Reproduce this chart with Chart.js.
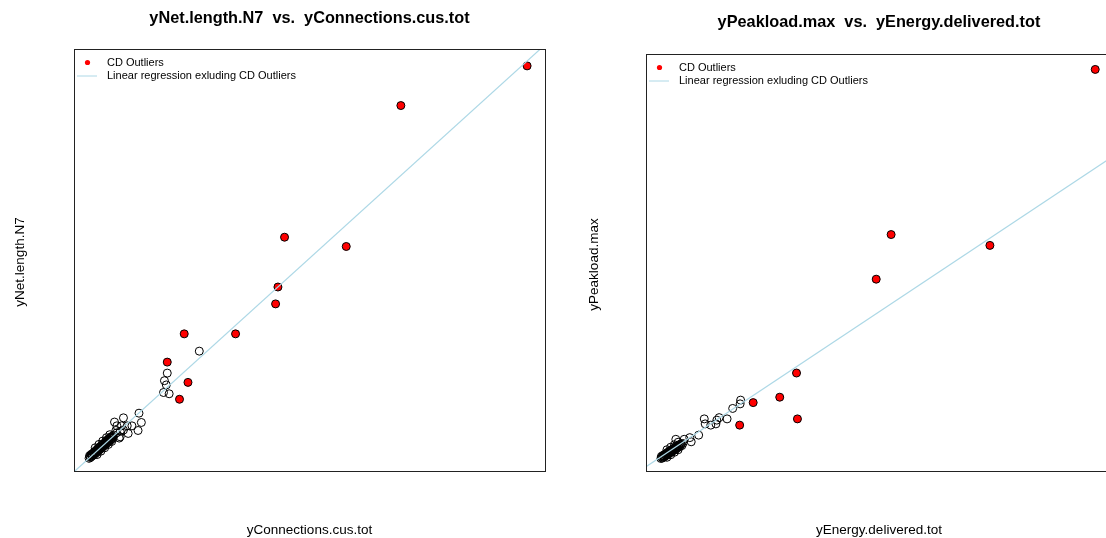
<!DOCTYPE html>
<html>
<head>
<meta charset="utf-8">
<script src="https://cdn.jsdelivr.net/npm/chart.js@4.4.1/dist/chart.umd.min.js"></script>
<style>
  html, body { margin: 0; padding: 0; background: #fff; overflow: hidden; }
  body { width: 1106px; height: 538px; position: relative; }
  canvas { position: absolute; top: 0; }
  #left { left: 0; }
  #right { left: 553px; }
</style>
</head>
<body>
<canvas id="left" width="553" height="538"></canvas>
<canvas id="right" width="565" height="538"></canvas>
<script>
// values are in scaled units (0-100 of each axis range), no tick labels in the source
const connPoints = [
  [26.6, 28.4], [19.8, 23.2], [19.2, 21.4], [19.6, 20.4], [19.0, 18.6], [20.2, 18.3],
  [13.8, 13.7], [14.3, 11.5], [13.6, 9.6], [10.5, 12.6], [8.6, 11.6], [9.1, 10.7],
  [10.1, 10.7], [11.3, 10.7], [12.3, 10.7], [11.5, 8.9], [9.8, 8.1], [10.5, 9.7],
  [9.6, 7.8], [9.0, 9.0], [9.8, 9.4], [8.9, 9.6],
  [3.2, 3.0], [3.3, 3.6], [3.5, 3.2], [3.6, 3.9], [3.8, 3.5], [3.9, 4.1], [4.0, 3.7],
  [4.2, 4.4], [4.3, 3.9], [4.4, 4.6], [4.6, 4.2], [4.7, 4.9], [4.8, 4.4], [5.0, 5.2],
  [5.1, 4.7], [5.2, 5.5], [5.4, 5.0], [5.5, 5.7], [5.6, 5.2], [5.8, 6.0], [5.9, 5.5],
  [6.0, 6.3], [6.2, 5.8], [6.3, 6.5], [6.4, 6.0], [6.6, 6.8], [6.7, 6.3], [6.8, 7.1],
  [7.0, 6.6], [7.1, 7.4], [7.2, 6.8], [7.4, 7.6], [7.5, 7.1], [7.6, 7.9], [7.8, 7.3],
  [7.9, 8.1], [8.0, 7.6], [8.2, 8.3], [8.3, 7.8], [8.5, 8.5],
  [3.4, 3.4], [3.8, 3.8], [4.2, 4.1], [4.6, 4.6], [5.0, 4.9], [5.4, 5.4], [5.8, 5.7],
  [6.2, 6.2], [6.6, 6.5], [7.0, 7.0], [7.4, 7.3], [7.8, 7.8], [8.1, 8.0],
  [4.5, 5.5], [5.3, 6.3], [6.1, 7.1], [6.9, 7.9], [7.6, 8.6],
  [4.9, 3.9], [5.7, 4.7], [6.5, 5.5], [7.3, 6.3], [8.0, 7.0]
];
const connOutliers = [
  [96.2, 96.0], [69.4, 86.6], [44.7, 55.4], [57.8, 53.2], [43.3, 43.6], [42.8, 39.6],
  [23.4, 32.5], [34.3, 32.5], [19.8, 25.8], [24.2, 21.0], [22.4, 17.0]
];
const connLine = [[0, -0.2], [100, 101.0]];

const energyPoints = [
  [20.3, 17.0], [20.2, 16.1], [18.6, 15.0], [17.4, 12.5], [15.7, 12.8], [15.2, 12.2],
  [15.0, 11.3], [13.9, 11.0], [12.7, 11.3], [12.5, 12.5], [11.3, 8.6], [9.4, 8.0],
  [9.7, 7.0], [8.2, 7.6], [6.4, 7.6],
  [3.2, 3.0], [3.3, 3.5], [3.5, 3.1], [3.6, 3.7], [3.8, 3.3], [3.9, 3.9], [4.0, 3.5],
  [4.2, 4.1], [4.3, 3.7], [4.4, 4.3], [4.6, 3.9], [4.7, 4.5], [4.8, 4.1], [5.0, 4.7],
  [5.1, 4.3], [5.2, 4.9], [5.4, 4.5], [5.5, 5.1], [5.6, 4.7], [5.8, 5.3], [5.9, 4.9],
  [6.0, 5.5], [6.2, 5.1], [6.3, 5.7], [6.4, 5.3], [6.6, 5.9], [6.7, 5.5], [6.8, 6.1],
  [7.0, 5.7], [7.1, 6.3], [7.3, 5.9], [7.5, 6.5], [7.7, 6.1], [7.9, 6.6],
  [3.4, 3.3], [3.8, 3.6], [4.2, 3.9], [4.6, 4.2], [5.0, 4.5], [5.4, 4.8], [5.8, 5.1],
  [6.2, 5.4], [6.6, 5.7], [7.0, 6.0], [7.4, 6.3],
  [4.5, 5.1], [5.3, 5.7], [6.1, 6.3], [6.9, 6.9], [4.5, 3.3], [5.3, 3.9], [6.1, 4.5],
  [6.9, 5.1]
];
const energyOutliers = [
  [96.4, 96.3], [52.6, 56.7], [73.8, 54.1], [49.4, 46.0], [32.3, 23.5], [28.7, 17.7],
  [23.0, 16.4], [32.5, 12.5], [20.1, 11.0]
];
const energyLine = [[0, 1.0], [100, 75.3]];

const legendLabels = ['CD Outliers', 'Linear regression exluding CD Outliers'];

const toXY = arr => arr.map(p => ({ x: p[0], y: p[1] }));

const rFrame = {
  id: 'rFrame',
  afterDraw(chart, args, opts) {
    const ctx = chart.ctx;
    const a = chart.chartArea;
    const cx = (a.left + a.right) / 2;
    ctx.save();
    // box
    ctx.strokeStyle = '#222';
    ctx.lineWidth = 1;
    ctx.strokeRect(Math.round(a.left) + 0.5, Math.round(a.top) + 0.5,
      Math.round(a.right - a.left), Math.round(a.bottom - a.top));
    ctx.fillStyle = '#000';
    // title
    ctx.font = 'bold 16.3px "Liberation Sans", Arial, sans-serif';
    ctx.textAlign = 'center';
    ctx.textBaseline = 'alphabetic';
    ctx.fillText(opts.title, cx, opts.titleY);
    // axis labels
    ctx.font = '13.5px "Liberation Sans", Arial, sans-serif';
    ctx.fillText(opts.xLabel, cx, 534);
    ctx.save();
    ctx.translate(opts.yLabelX, (a.top + a.bottom) / 2 + 2);
    ctx.rotate(-Math.PI / 2);
    ctx.fillText(opts.yLabel, 0, 0);
    ctx.restore();
    // legend
    ctx.font = '11px "Liberation Sans", Arial, sans-serif';
    ctx.textAlign = 'left';
    ctx.textBaseline = 'middle';
    ctx.fillStyle = '#ff0000';
    ctx.beginPath();
    ctx.arc(a.left + 13.5, a.top + 13.5, 2.6, 0, Math.PI * 2);
    ctx.fill();
    ctx.strokeStyle = '#add8e6';
    ctx.beginPath();
    ctx.moveTo(a.left + 3, a.top + 27);
    ctx.lineTo(a.left + 23, a.top + 27);
    ctx.stroke();
    ctx.fillStyle = '#000';
    ctx.fillText(legendLabels[0], a.left + 33, a.top + 14);
    ctx.fillText(legendLabels[1], a.left + 33, a.top + 27);
    ctx.restore();
  }
};

const makeChart = (id, points, outliers, line, padding, frame) => {
  return new Chart(document.getElementById(id), {
    type: 'scatter',
    data: {
      datasets: [
        {
          type: 'line',
          data: toXY(line),
          borderColor: '#add8e6',
          borderWidth: 1.2,
          pointRadius: 0,
          fill: false,
          order: 0,
        },
        {
          data: toXY(outliers),
          backgroundColor: '#ff0000',
          borderColor: '#000',
          borderWidth: 1,
          pointRadius: 4,
          order: 1,
        },
        {
          data: toXY(points),
          backgroundColor: 'rgba(0,0,0,0)',
          borderColor: '#000',
          borderWidth: 1,
          pointRadius: 4,
          order: 2,
        },
      ],
    },
    options: {
      responsive: false,
      animation: false,
      events: [],
      layout: { padding: padding },
      scales: {
        x: { type: 'linear', min: 0, max: 100, display: false },
        y: { type: 'linear', min: 0, max: 100, display: false },
      },
      plugins: {
        legend: { display: false },
        tooltip: { enabled: false },
        rFrame: frame,
      },
    },
    plugins: [rFrame],
  });
};

makeChart('left', connPoints, connOutliers, connLine,
  { left: 74, right: 8, top: 49, bottom: 67 },
  { title: 'yNet.length.N7  vs.  yConnections.cus.tot', titleY: 23,
    xLabel: 'yConnections.cus.tot', yLabel: 'yNet.length.N7', yLabelX: 24 });

makeChart('right', energyPoints, energyOutliers, energyLine,
  { left: 93, right: 6, top: 54, bottom: 67 },
  { title: 'yPeakload.max  vs.  yEnergy.delivered.tot', titleY: 27,
    xLabel: 'yEnergy.delivered.tot', yLabel: 'yPeakload.max', yLabelX: 45 });
</script>
</body>
</html>
